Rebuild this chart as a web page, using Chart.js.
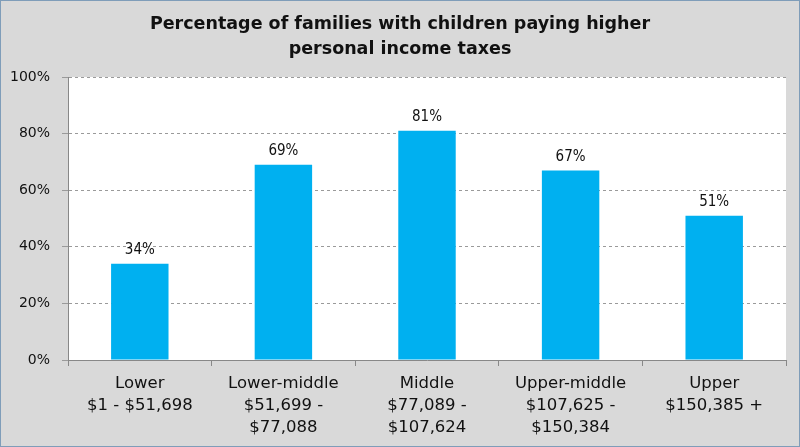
<!DOCTYPE html>
<html><head><meta charset="utf-8">
<script src="https://cdn.jsdelivr.net/npm/chart.js@4"></script>
<style>
html,body{margin:0;padding:0;background:#d9d9d9;}
#wrap{position:relative;width:798px;height:445px;border:1px solid #7f9db9;background:#d9d9d9;}
canvas{display:block;}
</style></head>
<body><div id="wrap"><canvas id="c" width="798" height="445"></canvas></div>
<script>
const categories = [
  ["Lower","$1 - $51,698"],
  ["Lower-middle","$51,699 -","$77,088"],
  ["Middle","$77,089 -","$107,624"],
  ["Upper-middle","$107,625 -","$150,384"],
  ["Upper","$150,385 +"]
];
const values = [34, 69, 81, 67, 51];
const yTicks = [0, 20, 40, 60, 80, 100];
const titleLines = ["Percentage of families with children paying higher","personal income taxes"];

const FONT = "'DejaVu Sans', sans-serif";
const FONT_C = "'DejaVu Sans Condensed', 'DejaVu Sans', sans-serif";

const plotBg = {
  id:'plotBg',
  beforeDraw(chart){
    const {ctx, chartArea:a} = chart;
    ctx.save(); ctx.fillStyle='#ffffff';
    ctx.fillRect(a.left, a.top, a.right-a.left, a.bottom-a.top);
    ctx.restore();
  }
};
const titlePlugin = {
  id:'titlePlugin',
  afterDraw(chart){
    const {ctx} = chart;
    ctx.save();
    ctx.font = "bold 17.5px " + FONT;
    ctx.fillStyle = '#111';
    ctx.textAlign='center'; ctx.textBaseline='middle';
    titleLines.forEach((t,i)=> ctx.fillText(t, 399, 23 + i*25));
    ctx.restore();
  }
};
const valueLabels = {
  id:'valueLabels',
  afterDatasetsDraw(chart){
    const {ctx} = chart;
    const meta = chart.getDatasetMeta(0);
    ctx.save();
    ctx.font = "15px " + FONT_C;
    ctx.fillStyle = '#111';
    ctx.textAlign='center'; ctx.textBaseline='bottom';
    meta.data.forEach((bar,i)=>{
      ctx.fillText(values[i] + '%', bar.x, bar.y - 6);
    });
    ctx.restore();
  }
};

new Chart(document.getElementById('c'), {
  type:'bar',
  data:{labels:categories, datasets:[{data:values, backgroundColor:'#00b0f0', barPercentage:0.4, categoryPercentage:1.0}]},
  options:{
    responsive:false, animation:false,
    layout:{padding:{left:0,right:13,top:76,bottom:0}},
    plugins:{
      legend:{display:false}, tooltip:{enabled:false}, title:{display:false}
    },
    scales:{
      x:{
        grid:{display:true, drawOnChartArea:false, drawTicks:true, tickLength:6, color:'#888', offset:true},
        border:{display:true, color:'#888'},
        ticks:{color:'#111', font:{family:FONT, size:16.5, lineHeight:1.36}, padding:6, maxRotation:0, autoSkip:false},
        afterFit(s){ s.height = 86; }
      },
      y:{
        min:0, max:100,
        afterBuildTicks(s){ s.ticks = yTicks.map(v=>({value:v})); },
        grid:{color:'#9a9a9a', tickLength:6},
        border:{display:true, color:'#888', dash:[3,3]},
        ticks:{color:'#111', font:{family:FONT, size:14}, padding:12, callback:v=>v+'%'},
        afterFit(s){ s.width = 67; }
      }
    }
  },
  plugins:[plotBg, valueLabels, titlePlugin]
});
</script></body></html>
